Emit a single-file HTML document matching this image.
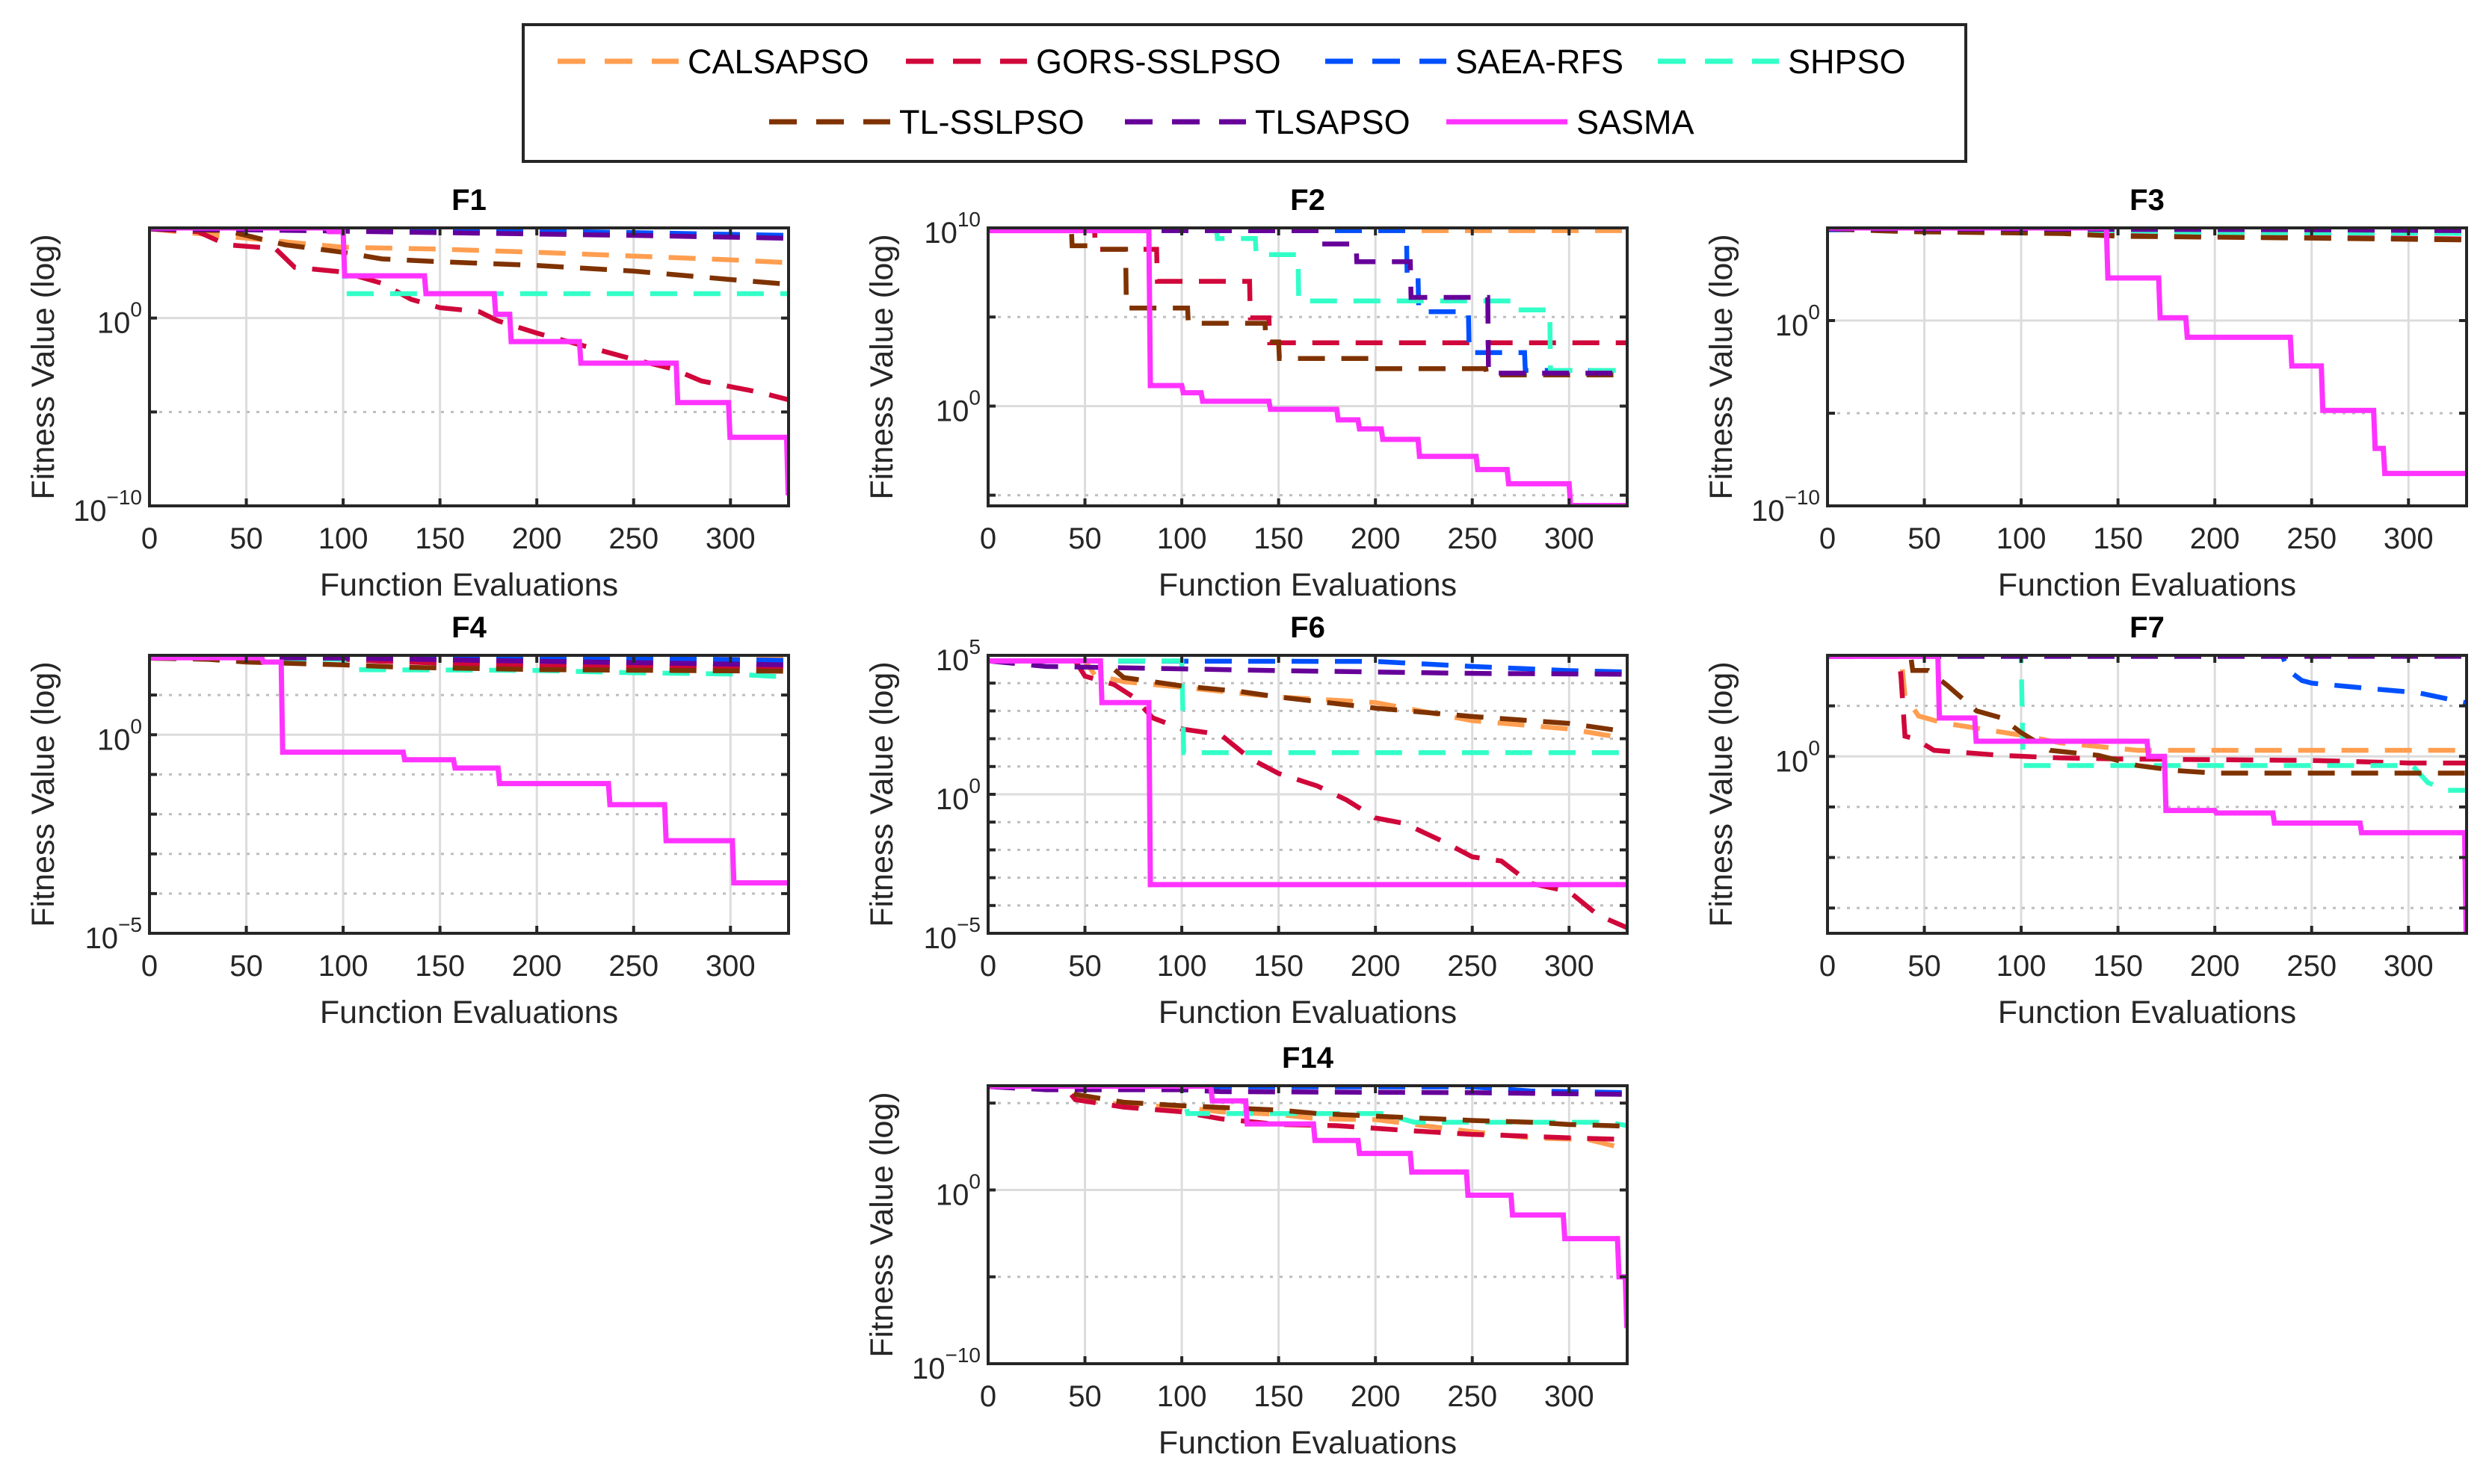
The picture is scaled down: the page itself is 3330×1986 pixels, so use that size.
<!DOCTYPE html>
<html><head><meta charset="utf-8"><title>Convergence curves</title>
<style>
html,body{margin:0;padding:0;background:#fff;}
svg{display:block;font-family:"Liberation Sans",Arial,sans-serif;}
</style></head>
<body>
<svg id="fig" width="3330" height="1986" viewBox="0 0 3330 1986" xmlns="http://www.w3.org/2000/svg">
<rect x="0" y="0" width="3330" height="1986" fill="#fff"/>
<g id="legend">
  <rect x="700" y="33" width="1930" height="183" fill="#fff" stroke="#262626" stroke-width="4"/>
</g>
</svg>
<script>
// ---- series metadata ----
const seriesNames = ["CALSAPSO","GORS-SSLPSO","SAEA-RFS","SHPSO","TL-SSLPSO","TLSAPSO","SASMA"];
const seriesColors = ["#FF9E50","#D0073A","#0050FF","#32FFC8","#7F3200","#660099","#FF33FF"];
const xTicks = [0,50,100,150,200,250,300];

// ---- data: [evaluation, log10(fitness)] ----
// F1
const F1_CALSAPSO = [[0,4.75],[45,4.3],[100,3.77],[150,3.67],[200,3.5],[250,3.3],[300,3.1],[330,2.95]];
const F1_GORS = [[0,4.75],[25,4.6],[40,3.9],[65,3.7],[75,2.7],[100,2.45],[120,1.85],[135,1.0],[150,0.55],[170,0.35],[180,-0.15],[200,-0.8],[225,-1.5],[250,-2.2],[270,-2.7],[285,-3.35],[300,-3.65],[315,-3.95],[330,-4.35]];
const F1_SAEA = [[0,4.78],[150,4.7],[250,4.55],[330,4.4]];
const F1_SHPSO = [[0,4.75],[100,4.75],[101,1.3],[330,1.3]];
const F1_TLSSLPSO = [[0,4.75],[40,4.65],[70,3.9],[100,3.5],[120,3.15],[150,3.0],[200,2.8],[250,2.5],[300,2.05],[330,1.8]];
const F1_TLSAPSO = [[0,4.75],[50,4.7],[150,4.55],[250,4.4],[330,4.25]];
const F1_SASMA = [[0,4.8],[92,4.6],[100,2.25],[142,1.3],[178,0.2],[186,-1.25],[222,-2.4],[272,-4.5],[299,-6.35],[329,-9.3]];
// F2
const F2_CALSAPSO = [[0,9.85],[330,9.85]];
const F2_GORS = [[0,9.85],[55,8.8],[87,7.0],[135,4.95],[145,3.55]];
const F2_SAEA = [[0,9.85],[216,7.2],[222,5.3],[248,3.0],[277,2.0]];
const F2_SHPSO = [[0,9.85],[118,9.4],[138,8.5],[160,5.9],[272,5.4],[290,2.0]];
const F2_TLSSLPSO = [[0,9.85],[43,9.0],[53,8.8],[71,5.5],[103,4.65],[143,3.6],[150,2.67],[198,2.1],[257,1.75]];
const F2_TLSAPSO = [[0,9.85],[171,9.1],[190,8.1],[218,6.1],[258,1.85]];
const F2_SASMA = [[0,9.85],[83,1.15],[100,0.75],[110,0.27],[145,-0.18],[180,-0.77],[191,-1.28],[203,-1.87],[222,-2.82],[252,-3.56],[268,-4.36],[300,-5.58]];
// F3
const F3_CALSAPSO = [[0,4.95],[330,4.95]];
const F3_GORS = [[0,4.95],[120,4.75],[200,4.55],[330,4.4]];
const F3_SAEA = [[0,4.9],[330,4.95]];
const F3_SHPSO = [[0,4.95],[150,4.85],[200,4.75],[330,4.7]];
const F3_TLSSLPSO = [[0,4.95],[40,4.8],[120,4.7],[150,4.55],[250,4.45],[330,4.35]];
const F3_TLSAPSO = [[0,4.95],[250,4.9],[330,4.85]];
const F3_SASMA = [[0,5.0],[144,2.3],[171,0.15],[185,-0.9],[239,-2.45],[255,-4.85],[282,-6.9],[287,-8.25]];
// F4
const F4_CALSAPSO = [[0,1.97],[330,1.97]];
const F4_GORS = [[0,1.93],[100,1.9],[120,1.85],[200,1.73],[330,1.71]];
const F4_SAEA = [[0,1.95],[250,1.93],[330,1.87]];
const F4_SHPSO = [[0,1.93],[100,1.9],[102,1.64],[200,1.62],[250,1.56],[300,1.53],[330,1.45]];
const F4_TLSSLPSO = [[0,1.93],[30,1.9],[50,1.83],[100,1.76],[130,1.7],[200,1.64],[330,1.6]];
const F4_TLSAPSO = [[0,1.95],[100,1.93],[200,1.85],[330,1.76]];
const F4_SASMA = [[0,1.94],[58,1.83],[68,-0.44],[131,-0.63],[157,-0.84],[180,-1.23],[237,-1.76],[266,-2.67],[301,-3.73]];
// F6
const F6_CALSAPSO = [[0,4.8],[50,4.8],[55,4.3],[70,4.05],[100,3.85],[150,3.5],[200,3.3],[250,2.65],[300,2.35],[330,2.0]];
const F6_GORS = [[0,4.8],[45,4.8],[50,4.25],[65,3.95],[75,3.5],[85,2.75],[100,2.35],[120,2.15],[135,1.3],[150,0.75],[170,0.3],[185,-0.2],[200,-0.85],[215,-1.05],[235,-1.7],[250,-2.25],[265,-2.4],[280,-3.2],[300,-3.5],[315,-4.35],[330,-4.8]];
const F6_SAEA = [[0,4.8],[200,4.78],[250,4.6],[300,4.45],[330,4.4]];
const F6_SHPSO = [[0,4.8],[100,4.8],[101,1.5],[330,1.5]];
const F6_TLSSLPSO = [[0,4.8],[60,4.8],[70,4.2],[100,3.9],[130,3.7],[150,3.5],[200,3.1],[250,2.8],[300,2.55],[330,2.25]];
const F6_TLSAPSO = [[0,4.8],[30,4.6],[150,4.45],[200,4.4],[250,4.35],[330,4.32]];
const F6_SASMA = [[0,4.8],[58,3.3],[83,-3.25]];
// F7
const F7_CALSAPSO = [[0,1.98],[38,1.98],[40,1.2],[47,0.8],[60,0.66],[100,0.42],[120,0.27],[160,0.12],[330,0.12]];
const F7_GORS = [[0,1.98],[37,1.98],[38,1.55],[40,0.4],[45,0.35],[55,0.12],[90,0.02],[120,-0.03],[150,-0.05],[250,-0.08],[300,-0.13],[330,-0.13]];
const F7_SAEA = [[0,1.98],[235,1.98],[238,1.7],[245,1.5],[250,1.45],[275,1.36],[305,1.26],[330,1.06]];
const F7_SHPSO = [[0,1.98],[100,1.98],[101,-0.18],[302,-0.18],[310,-0.52],[320,-0.67],[330,-0.67]];
const F7_TLSSLPSO = [[0,1.98],[43,1.98],[44,1.7],[52,1.7],[62,1.4],[77,0.9],[90,0.76],[100,0.47],[115,0.12],[140,0.02],[160,-0.18],[180,-0.28],[200,-0.33],[330,-0.33]];
const F7_TLSAPSO = [[0,1.98],[330,1.98]];
const F7_SASMA = [[0,1.98],[57,0.76],[76,0.3],[165,0.0],[174,-1.07],[200,-1.12],[230,-1.32],[275,-1.51],[329,-3.5]];
// F14
const F14_CALSAPSO = [[0,5.95],[40,5.9],[45,5.27],[70,4.9],[100,4.77],[120,4.5],[150,4.35],[170,4.1],[200,4.05],[250,3.35],[280,3.0],[310,2.9],[330,2.35]];
const F14_GORS = [[0,5.95],[40,5.9],[45,5.2],[70,4.77],[100,4.5],[120,4.1],[150,3.77],[180,3.7],[200,3.55],[220,3.4],[250,3.2],[270,3.13],[300,3.0],[330,2.9]];
const F14_SAEA = [[0,5.95],[250,5.93],[280,5.7],[330,5.6]];
const F14_SHPSO = [[0,5.95],[100,5.95],[103,4.4],[205,4.4],[210,4.2],[220,3.9],[320,3.9],[330,3.7]];
const F14_TLSSLPSO = [[0,5.95],[35,5.9],[45,5.5],[70,5.05],[100,4.85],[130,4.7],[150,4.6],[170,4.4],[200,4.25],[230,4.1],[250,4.0],[280,3.9],[300,3.77],[330,3.67]];
const F14_TLSAPSO = [[0,5.95],[30,5.77],[100,5.77],[120,5.66],[250,5.6],[330,5.5]];
const F14_SASMA = [[0,5.97],[115,5.13],[133,3.8],[168,2.85],[191,2.1],[218,1.03],[247,-0.3],[270,-1.44],[297,-2.8],[325,-5.0],[329,-7.8]];

// ---- panel axis settings ----
const panelTitles = ["F1","F2","F3","F4","F6","F7","F14"];
const panelYLims = [[-10,4.8],[-5.6,10],[-10,5],[-5,2],[-5,5],[-3.5,2],[-10,6]];
const panelMajor = [[-10,0],[0,10],[-10,0],[-5,0],[-5,0,5],[0],[-10,0]];
const panelMinor = [[-5],[-5,5],[-5],[-4,-3,-2,-1,1],[-4,-3,-2,-1,1,2,3,4],[-3,-2,-1,1],[-5,5]];
const panelSeries = [
  [F1_CALSAPSO,F1_GORS,F1_SAEA,F1_SHPSO,F1_TLSSLPSO,F1_TLSAPSO,F1_SASMA],
  [F2_CALSAPSO,F2_GORS,F2_SAEA,F2_SHPSO,F2_TLSSLPSO,F2_TLSAPSO,F2_SASMA],
  [F3_CALSAPSO,F3_GORS,F3_SAEA,F3_SHPSO,F3_TLSSLPSO,F3_TLSAPSO,F3_SASMA],
  [F4_CALSAPSO,F4_GORS,F4_SAEA,F4_SHPSO,F4_TLSSLPSO,F4_TLSAPSO,F4_SASMA],
  [F6_CALSAPSO,F6_GORS,F6_SAEA,F6_SHPSO,F6_TLSSLPSO,F6_TLSAPSO,F6_SASMA],
  [F7_CALSAPSO,F7_GORS,F7_SAEA,F7_SHPSO,F7_TLSSLPSO,F7_TLSAPSO,F7_SASMA],
  [F14_CALSAPSO,F14_GORS,F14_SAEA,F14_SHPSO,F14_TLSSLPSO,F14_TLSAPSO,F14_SASMA]
];
// step series = SASMA and F2 step-like curves rendered as staircase
const XMAX = 330;

// layout (not data)
const LAYOUT = [[200,305],[1322,305],[2445,305],[200,877],[1322,877],[2445,877],[1322,1453]];
const PW = 855, PH = 372;

const NS = "http://www.w3.org/2000/svg";
const svg = document.getElementById('fig');
function mk(tag, attrs, parent){
  const e = document.createElementNS(NS, tag);
  for (const k in attrs) e.setAttribute(k, attrs[k]);
  (parent||svg).appendChild(e);
  return e;
}

function drawPanel(i){
  const [L,T] = LAYOUT[i];
  const [ymin,ymax] = panelYLims[i];
  const sx = v => L + v/XMAX*PW;
  const sy = v => T + (ymax - v)/(ymax - ymin)*PH;
  const g = mk('g', {});
  
  
  const cid = 'clip' + i;
  const cp = mk('clipPath', {id: cid}, g);
  mk('rect', {x: L, y: T, width: PW, height: PH}, cp);
  // grid
  xTicks.forEach(t => {
    const ln = mk('line', {x1: sx(t), x2: sx(t), y1: T, y2: T+PH, stroke: '#dcdcdc', 'stroke-width': 3}, g);
    
    
  });
  panelMinor[i].forEach(t => {
    const ln = mk('line', {x1: L, x2: L+PW, y1: sy(t), y2: sy(t), stroke: '#bdbdbd', 'stroke-width': 3, 'stroke-dasharray': '4 9'}, g);
    
    
  });
  panelMajor[i].forEach(t => {
    const ln = mk('line', {x1: L, x2: L+PW, y1: sy(t), y2: sy(t), stroke: '#dcdcdc', 'stroke-width': 3}, g);
    
    
  });
  // series
  const sg = mk('g', {'clip-path': 'url(#' + cid + ')'}, g);
  panelSeries[i].forEach((pts, s) => {
    const isSolid = (s === 6);
    let d = '';
    if (isSolid || i === 1) {
      pts.forEach((p, k) => {
        const x = sx(p[0]), y = sy(p[1]);
        if (k === 0) d += 'M' + x + ' ' + y;
        else d += ' L' + x + ' ' + sy(pts[k-1][1]) + ' L' + (x + (isSolid ? 2 : 1)) + ' ' + y;
      });
      d += ' L' + sx(XMAX) + ' ' + sy(pts[pts.length-1][1]);
    } else {
      pts.forEach((p, k) => { d += (k ? ' L' : 'M') + sx(p[0]) + ' ' + sy(p[1]); });
      if (pts[pts.length-1][0] < XMAX) d += ' L' + sx(XMAX) + ' ' + sy(pts[pts.length-1][1]);
    }
    const path = mk('path', {d: d, fill: 'none', stroke: seriesColors[s], 'stroke-width': isSolid ? 7 : 6.5,
      'stroke-dasharray': isSolid ? 'none' : '36 22', 'stroke-linejoin': 'miter'}, sg);
    
    
  });
  // axes box
  const box = mk('rect', {x: L, y: T, width: PW, height: PH, fill: 'none', stroke: '#262626', 'stroke-width': 4}, g);
  
  
  // ticks
  xTicks.forEach(t => {
    mk('line', {x1: sx(t), x2: sx(t), y1: T+PH, y2: T+PH-10, stroke: '#262626', 'stroke-width': 4}, g);
    mk('line', {x1: sx(t), x2: sx(t), y1: T, y2: T+10, stroke: '#262626', 'stroke-width': 4}, g);
    const tx = mk('text', {x: sx(t), y: T+PH+57, 'font-size': 40, fill: '#262626', 'text-anchor': 'middle'}, g);
    tx.textContent = String(t);
    
    
  });
  panelMajor[i].concat(panelMinor[i]).forEach(t => {
    mk('line', {x1: L, x2: L+10, y1: sy(t), y2: sy(t), stroke: '#262626', 'stroke-width': 4}, g);
    mk('line', {x1: L+PW, x2: L+PW-10, y1: sy(t), y2: sy(t), stroke: '#262626', 'stroke-width': 4}, g);
  });
  panelMajor[i].forEach(t => {
    const tx = mk('text', {x: L-10, y: sy(t)+20, 'font-size': 40, fill: '#262626', 'text-anchor': 'end'}, g);
    const a = mk('tspan', {}, tx); a.textContent = '10';
    const b = mk('tspan', {'font-size': 28, dy: -22}, tx); b.textContent = (t < 0 ? '\u2212' + (-t) : String(t));
    
    
  });
  // titles
  const ttl = mk('text', {x: L+PW/2, y: T-24, 'font-size': 40, 'font-weight': 'bold', fill: '#000', 'text-anchor': 'middle'}, g);
  ttl.textContent = panelTitles[i];
  
  
  const xl = mk('text', {x: L+PW/2, y: T+PH+120, 'font-size': 43, fill: '#262626', 'text-anchor': 'middle'}, g);
  xl.textContent = 'Function Evaluations';
  
  
  const cx = L-142, cy = T+PH/2;
  const yl = mk('text', {x: cx, y: cy, 'font-size': 43, fill: '#262626', 'text-anchor': 'middle', 'dominant-baseline': 'central',
    transform: 'rotate(-90 ' + cx + ' ' + cy + ')'}, g);
  yl.textContent = 'Fitness Value (log)';
  
  
}
for (let i = 0; i < panelTitles.length; i++) drawPanel(i);

// legend
const legPos = [[746,82],[1212,82],[1773,82],[2218,82],[1029,163],[1505,163],[1935,163]];
const leg = document.getElementById('legend');
seriesNames.forEach((n, s) => {
  const [x, y] = legPos[s];
  const eg = mk('g', {}, leg);
  
  
  mk('line', {x1: x, x2: x+162, y1: y, y2: y, stroke: seriesColors[s], 'stroke-width': 7,
    'stroke-dasharray': s === 6 ? 'none' : '37 26'}, eg);
  const t = mk('text', {x: x+174, y: y+16, 'font-size': 45, fill: '#000'}, eg);
  t.textContent = n;
});
</script>
</body></html>
